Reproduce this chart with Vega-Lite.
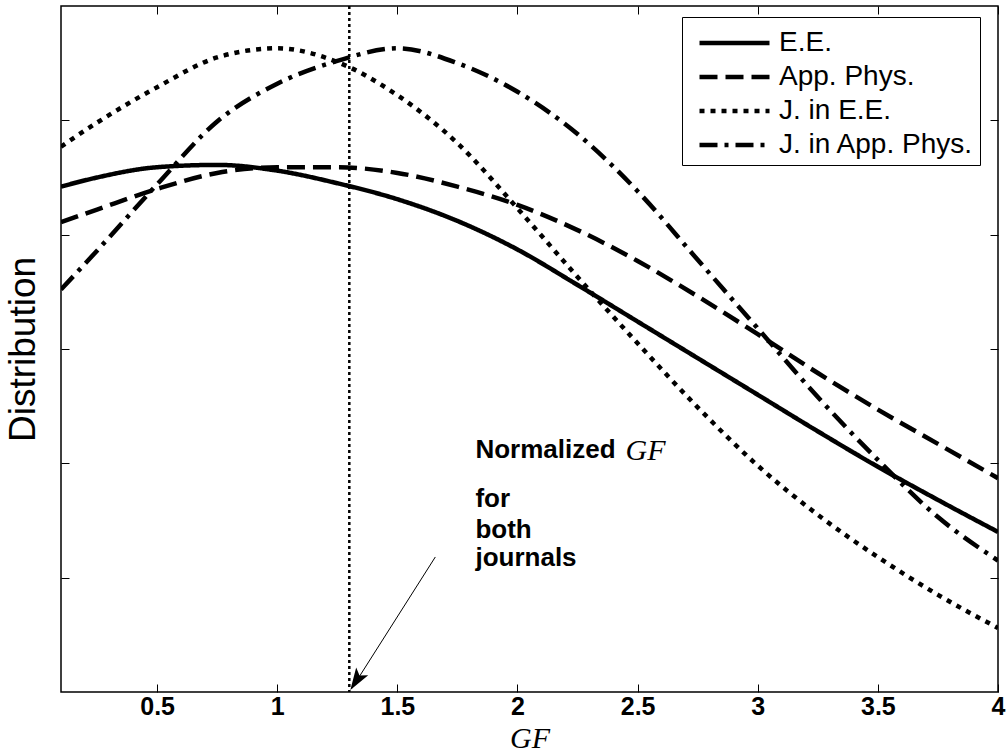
{
  "$schema": "https://vega.github.io/schema/vega-lite/v6.json",
  "width": 937,
  "height": 686,
  "autosize": {"type": "none"},
  "padding": {"left": 61, "top": 6, "right": 10, "bottom": 61},
  "background": "white",
  "config": {
    "view": {"stroke": "#000000", "strokeWidth": 1.5},
    "axis": {"grid": false, "domain": false, "tickColor": "#000000", "tickWidth": 1, "tickSize": -8}
  },
  "datasets": {
    "curves": [
      {"x": 0.1, "y": 4.42, "s": "E.E."}, {"x": 0.25, "y": 4.50, "s": "E.E."}, {"x": 0.5, "y": 4.59, "s": "E.E."}, {"x": 0.75, "y": 4.61, "s": "E.E."}, {"x": 1.0, "y": 4.56, "s": "E.E."}, {"x": 1.25, "y": 4.45, "s": "E.E."}, {"x": 1.5, "y": 4.31, "s": "E.E."}, {"x": 1.75, "y": 4.12, "s": "E.E."}, {"x": 2.0, "y": 3.87, "s": "E.E."}, {"x": 2.25, "y": 3.56, "s": "E.E."}, {"x": 2.5, "y": 3.24, "s": "E.E."}, {"x": 2.75, "y": 2.92, "s": "E.E."}, {"x": 3.0, "y": 2.60, "s": "E.E."}, {"x": 3.25, "y": 2.28, "s": "E.E."}, {"x": 3.5, "y": 1.97, "s": "E.E."}, {"x": 3.75, "y": 1.68, "s": "E.E."}, {"x": 4.0, "y": 1.40, "s": "E.E."},
      {"x": 0.1, "y": 4.11, "s": "App. Phys."}, {"x": 0.25, "y": 4.22, "s": "App. Phys."}, {"x": 0.5, "y": 4.40, "s": "App. Phys."}, {"x": 0.75, "y": 4.54, "s": "App. Phys."}, {"x": 1.0, "y": 4.59, "s": "App. Phys."}, {"x": 1.25, "y": 4.59, "s": "App. Phys."}, {"x": 1.5, "y": 4.54, "s": "App. Phys."}, {"x": 1.75, "y": 4.42, "s": "App. Phys."}, {"x": 2.0, "y": 4.26, "s": "App. Phys."}, {"x": 2.25, "y": 4.04, "s": "App. Phys."}, {"x": 2.5, "y": 3.77, "s": "App. Phys."}, {"x": 2.75, "y": 3.46, "s": "App. Phys."}, {"x": 3.0, "y": 3.13, "s": "App. Phys."}, {"x": 3.25, "y": 2.79, "s": "App. Phys."}, {"x": 3.5, "y": 2.47, "s": "App. Phys."}, {"x": 3.75, "y": 2.17, "s": "App. Phys."}, {"x": 4.0, "y": 1.87, "s": "App. Phys."},
      {"x": 0.1, "y": 4.77, "s": "J. in E.E."}, {"x": 0.25, "y": 4.98, "s": "J. in E.E."}, {"x": 0.5, "y": 5.29, "s": "J. in E.E."}, {"x": 0.75, "y": 5.55, "s": "J. in E.E."}, {"x": 1.0, "y": 5.63, "s": "J. in E.E."}, {"x": 1.25, "y": 5.51, "s": "J. in E.E."}, {"x": 1.5, "y": 5.22, "s": "J. in E.E."}, {"x": 1.75, "y": 4.80, "s": "J. in E.E."}, {"x": 2.0, "y": 4.23, "s": "J. in E.E."}, {"x": 2.25, "y": 3.63, "s": "J. in E.E."}, {"x": 2.5, "y": 3.05, "s": "J. in E.E."}, {"x": 2.75, "y": 2.49, "s": "J. in E.E."}, {"x": 3.0, "y": 1.98, "s": "J. in E.E."}, {"x": 3.25, "y": 1.55, "s": "J. in E.E."}, {"x": 3.5, "y": 1.18, "s": "J. in E.E."}, {"x": 3.75, "y": 0.85, "s": "J. in E.E."}, {"x": 4.0, "y": 0.56, "s": "J. in E.E."},
      {"x": 0.1, "y": 3.52, "s": "J. in App. Phys."}, {"x": 0.25, "y": 3.86, "s": "J. in App. Phys."}, {"x": 0.5, "y": 4.44, "s": "J. in App. Phys."}, {"x": 0.75, "y": 4.99, "s": "J. in App. Phys."}, {"x": 1.0, "y": 5.32, "s": "J. in App. Phys."}, {"x": 1.25, "y": 5.52, "s": "J. in App. Phys."}, {"x": 1.5, "y": 5.63, "s": "J. in App. Phys."}, {"x": 1.75, "y": 5.50, "s": "J. in App. Phys."}, {"x": 2.0, "y": 5.25, "s": "J. in App. Phys."}, {"x": 2.25, "y": 4.88, "s": "J. in App. Phys."}, {"x": 2.5, "y": 4.38, "s": "J. in App. Phys."}, {"x": 2.75, "y": 3.78, "s": "J. in App. Phys."}, {"x": 3.0, "y": 3.18, "s": "J. in App. Phys."}, {"x": 3.25, "y": 2.58, "s": "J. in App. Phys."}, {"x": 3.5, "y": 2.03, "s": "J. in App. Phys."}, {"x": 3.75, "y": 1.53, "s": "J. in App. Phys."}, {"x": 4.0, "y": 1.15, "s": "J. in App. Phys."}
    ],
    "arrow": [{"x": 1.658, "y": 1.181, "x2": 1.31, "y2": 0.03}],
    "head": [{"x": 1.329, "y": 0.099}],
    "vline": [{"x": 1.3}],
    "note": [
      {"x": 1.825, "y": 2.047, "t": "Normalized"},
      {"x": 1.825, "y": 1.618, "t": "for"},
      {"x": 1.825, "y": 1.35, "t": "both"},
      {"x": 1.825, "y": 1.10, "t": "journals"}
    ],
    "notegf": [{"x": 2.45, "y": 2.03, "t": "GF"}]
  },
  "resolve": {"axis": {"x": "independent", "y": "independent"}},
  "layer": [
    {
      "data": {"name": "curves"},
      "mark": {"type": "line", "interpolate": "monotone", "strokeWidth": 4.5, "color": "#000000", "clip": true},
      "encoding": {
        "x": {"field": "x", "type": "quantitative",
          "scale": {"domain": [0.1, 4], "nice": false, "zero": false},
          "axis": {"orient": "bottom", "values": [0.5, 1, 1.5, 2, 2.5, 3, 3.5, 4], "format": "~g", "labelFont": "Liberation Sans", "labelFontWeight": "bold", "labelFontSize": 25, "labelColor": "#000000", "labelPadding": 10, "labelFlush": false,
            "title": "GF", "titleFont": "Liberation Serif", "titleFontStyle": "italic", "titleFontWeight": "normal", "titleFontSize": 30, "titleColor": "#000000", "titlePadding": 4}},
        "y": {"field": "y", "type": "quantitative",
          "scale": {"domain": [0, 6], "nice": false, "zero": false},
          "axis": {"orient": "left", "values": [1, 2, 3, 4, 5], "labels": false,
            "title": "Distribution", "titleFont": "Liberation Sans", "titleFontWeight": "normal", "titleFontSize": 37, "titleColor": "#000000", "titlePadding": 18}},
        "strokeDash": {"field": "s", "type": "nominal",
          "scale": {"domain": ["E.E.", "App. Phys.", "J. in E.E.", "J. in App. Phys."], "range": [[1, 0], [18, 8], [5, 6], [18, 7, 4, 7]]},
          "legend": {"orient": "none", "legendX": 621, "legendY": 11, "title": null, "strokeColor": "#000000", "fillColor": "#ffffff", "padding": 6,
            "symbolType": "M-1,0H3", "symbolSize": 1225, "symbolStrokeWidth": 4.5, "symbolStrokeColor": "#000000", "symbolFillColor": "transparent", "symbolOffset": 9,
            "labelFont": "Liberation Sans", "labelFontSize": 28, "labelColor": "#000000", "labelOffset": 42, "rowPadding": 0, "labelLimit": 400}}
      }
    },
    {
      "data": {"name": "vline"},
      "mark": {"type": "rule", "strokeWidth": 2.5, "strokeDash": [3, 3], "color": "#000000"},
      "encoding": {"x": {"field": "x", "type": "quantitative", "scale": {"domain": [0.1, 4], "nice": false, "zero": false}, "axis": null}}
    },
    {
      "data": {"name": "arrow"},
      "mark": {"type": "rule", "strokeWidth": 1, "color": "#000000"},
      "encoding": {
        "x": {"field": "x", "type": "quantitative", "scale": {"domain": [0.1, 4], "nice": false, "zero": false},
          "axis": {"orient": "top", "values": [0.5, 1, 1.5, 2, 2.5, 3, 3.5, 4], "labels": false, "title": null}},
        "y": {"field": "y", "type": "quantitative", "scale": {"domain": [0, 6], "nice": false, "zero": false},
          "axis": {"orient": "right", "values": [1, 2, 3, 4, 5], "labels": false, "title": null}},
        "x2": {"field": "x2"},
        "y2": {"field": "y2"}
      }
    },
    {
      "data": {"name": "head"},
      "mark": {"type": "point", "shape": "M0,-1L0.65,1L0,0.55L-0.65,1Z", "size": 484, "angle": 212.6, "filled": true, "color": "#000000", "opacity": 1},
      "encoding": {
        "x": {"field": "x", "type": "quantitative", "scale": {"domain": [0.1, 4], "nice": false, "zero": false}, "axis": null},
        "y": {"field": "y", "type": "quantitative", "scale": {"domain": [0, 6], "nice": false, "zero": false}, "axis": null}
      }
    },
    {
      "data": {"name": "note"},
      "mark": {"type": "text", "align": "left", "baseline": "alphabetic", "font": "Liberation Sans", "fontWeight": "bold", "fontSize": 26, "color": "#000000"},
      "encoding": {
        "x": {"field": "x", "type": "quantitative", "scale": {"domain": [0.1, 4], "nice": false, "zero": false}, "axis": null},
        "y": {"field": "y", "type": "quantitative", "scale": {"domain": [0, 6], "nice": false, "zero": false}, "axis": null},
        "text": {"field": "t"}
      }
    },
    {
      "data": {"name": "notegf"},
      "mark": {"type": "text", "align": "left", "baseline": "alphabetic", "font": "Liberation Serif", "fontStyle": "italic", "fontSize": 30, "color": "#000000"},
      "encoding": {
        "x": {"field": "x", "type": "quantitative", "scale": {"domain": [0.1, 4], "nice": false, "zero": false}, "axis": null},
        "y": {"field": "y", "type": "quantitative", "scale": {"domain": [0, 6], "nice": false, "zero": false}, "axis": null},
        "text": {"field": "t"}
      }
    }
  ]
}
